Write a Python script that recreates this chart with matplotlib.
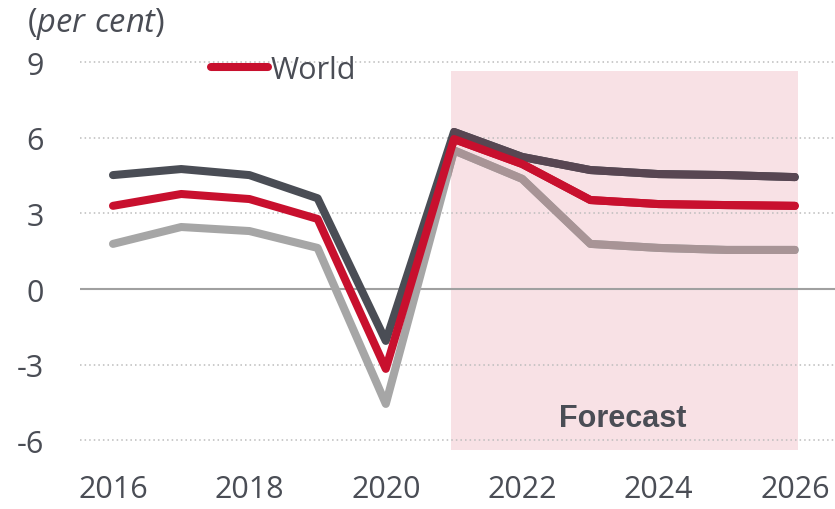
import matplotlib
matplotlib.use("Agg")
import matplotlib.pyplot as plt
from matplotlib.patches import Rectangle

# ---- data ----
years = [2016, 2017, 2018, 2019, 2020, 2021, 2022, 2023, 2024, 2025, 2026]
world = [3.3, 3.77, 3.57, 2.78, -3.17, 5.95, 4.96, 3.53, 3.37, 3.33, 3.3]
developing = [4.52, 4.76, 4.52, 3.6, -2.06, 6.23, 5.24, 4.72, 4.56, 4.52, 4.44]
developed = [1.79, 2.46, 2.3, 1.63, -4.56, 5.5, 4.37, 1.79, 1.63, 1.55, 1.55]
yticks = [-6, -3, 0, 3, 6, 9]
xticks = [2016, 2018, 2020, 2022, 2024, 2026]
forecast_start, forecast_end = 2021, 2026
forecast_label = "Forecast"

TXT = "#4a4d55"
RED = "#C8102E"
DARK = "#4a4d55"
LIGHT = "#a6a6a6"
SHADE = "#F8E1E5"

plt.rcParams['font.family'] = ['Open Sans', 'DejaVu Sans']
plt.rcParams['mathtext.fontset'] = 'custom'
plt.rcParams['mathtext.it'] = 'Open Sans:italic'
plt.rcParams['mathtext.rm'] = 'Open Sans'

fig = plt.figure(figsize=(8.35, 5.10), dpi=100)
W, H = 835, 510
ax = fig.add_axes([80 / W, (H - 456) / H, 1 - 80 / W, (456 - 53) / H])

# mapping: x 2016 -> 113px, 68.2 px/yr ; y 0 -> 290px, 25.2 px/unit
ax.set_xlim(2016 - 33 / 68.2, 2026 + 40 / 68.2)
ax.set_ylim(-(456 - 290) / 25.2, (290 - 53) / 25.2)

# forecast shading
shade = Rectangle((forecast_start - 0.05, -6.38), forecast_end - forecast_start + 0.1, 8.65 + 6.38,
                  facecolor=SHADE, edgecolor='none', zorder=0.5)
ax.add_patch(shade)

# grid
for yv in yticks:
    if yv == 0:
        ax.axhline(0, color="#a0a0a0", lw=1.5, zorder=1)
    else:
        ax.axhline(yv, color="#bcbcbc", lw=1.1, ls=(0, (1, 2)), zorder=1)

lw = 5.8
series = [(developed, LIGHT, "#A89496", "_developed"),
          (developing, DARK, "#584652", "_developing"),
          (world, RED, "#C8102E", "World")]
for vals, c, ctint, lab in series:
    ax.plot(years, vals, color=c, lw=lw, solid_capstyle='round',
            solid_joinstyle='round', zorder=2, label=lab)
    ln, = ax.plot(years, vals, color=ctint, lw=lw, solid_capstyle='round',
                  solid_joinstyle='round', zorder=2.5, label='_nolegend_')
    clip = Rectangle((forecast_start - 0.05, -6.38), forecast_end - forecast_start + 0.1,
                     8.65 + 6.38, transform=ax.transData)
    ln.set_clip_path(clip)

for s in ax.spines.values():
    s.set_visible(False)

ax.set_yticks(yticks)
ax.set_yticklabels([str(v) for v in yticks])
ax.set_xticks(xticks)
ax.set_xticklabels([str(v) for v in xticks])
ax.tick_params(axis='y', length=0, pad=26, labelsize=22, labelcolor=TXT)
ax.tick_params(axis='x', length=0, pad=14, labelsize=22, labelcolor=TXT)

ax.text(623 / W, (H - 419) / H, forecast_label, transform=fig.transFigure,
        ha='center', va='center', fontsize=22, fontweight='bold',
        color=TXT, family=['Liberation Sans', 'DejaVu Sans'])

fig.text(27 / W, (H - 32) / H, r"($\it{per\ cent}$)", ha='left', va='baseline',
         fontsize=23.5, color=TXT)

leg = ax.legend(loc='center left', bbox_to_anchor=(211 / W, (H - 71) / H),
                bbox_transform=fig.transFigure, frameon=False, fontsize=22,
                handlelength=1.85, handletextpad=0.1, borderpad=0, borderaxespad=0)
for t in leg.get_texts():
    t.set_color(TXT)

fig.savefig("out.png", dpi=100)
